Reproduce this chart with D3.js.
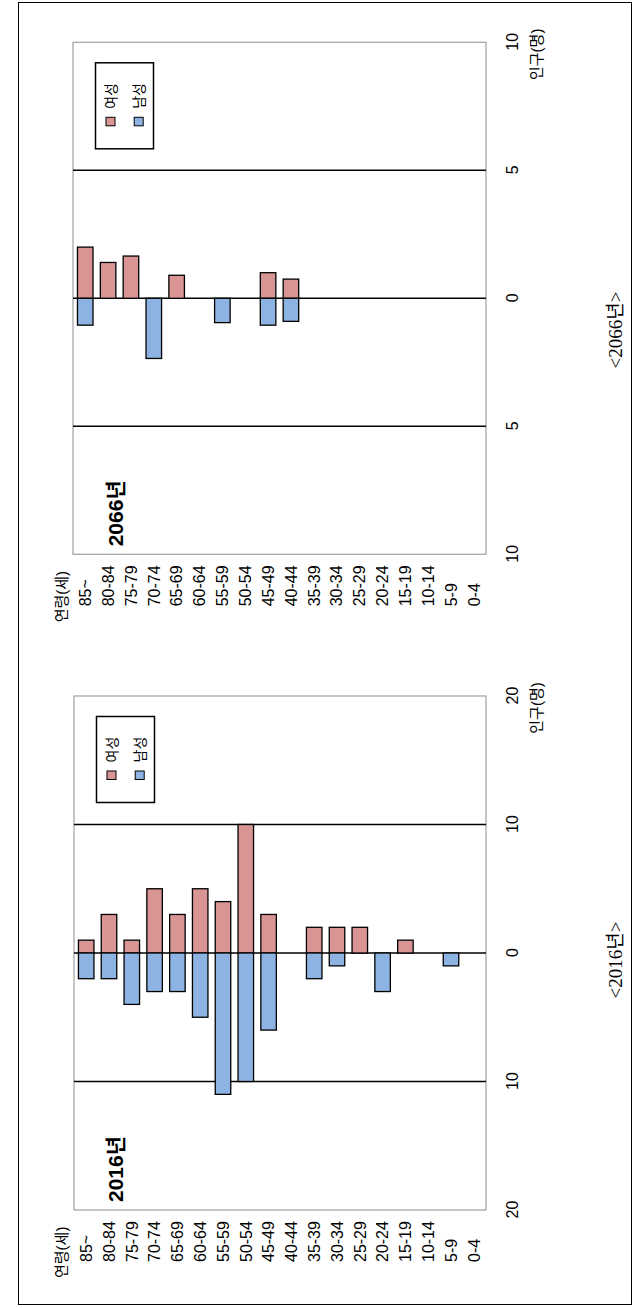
<!DOCTYPE html>
<html><head><meta charset="utf-8">
<script src="https://cdn.jsdelivr.net/npm/d3@7"></script>
<style>body{margin:0;background:#fff}svg{display:block}</style>
</head><body>
<svg id="c" width="635" height="1308"></svg>
<script>
const ages = ["85~","80-84","75-79","70-74","65-69","60-64","55-59","50-54","45-49","40-44","35-39","30-34","25-29","20-24","15-19","10-14","5-9","0-4"];
const female2016 = [1,3,1,5,3,5,4,10,3,0,2,2,2,0,1,0,0,0];
const male2016   = [2,2,4,3,3,5,11,10,6,0,2,1,0,3,0,0,1,0];
const female2066 = [2.0,1.4,1.65,0,0.9,0,0,0,1.0,0.75,0,0,0,0,0,0,0,0];
const male2066   = [1.05,0,0,2.35,0,0,0.95,0,1.05,0.9,0,0,0,0,0,0,0,0];
const ticks2016 = [-20,-10,0,10,20];
const ticks2066 = [-10,-5,0,5,10];
const grid2016 = [-10,10];
const grid2066 = [-5,5];
const legendLabels = ["여성","남성"];
const titles = ["2016년","2066년"];
const captions = ["<2016년>","<2066년>"];
const ageTitle = "연령(세)";
const popTitle = "인구(명)";

const RED = "#d99594", BLUE = "#8db3e2";
const SANS = "'Liberation Sans', Arial, 'Noto Sans CJK KR', sans-serif";
const SERIF = "'Liberation Serif', 'Times New Roman', 'Noto Sans CJK KR', serif";

const svg = d3.select("#c");
// outer frame (screen coords)
svg.append("rect").attr("x",18.5).attr("y",2.5).attr("width",613).attr("height",1302)
  .attr("fill","none").attr("stroke","#000").attr("stroke-width",1);

// rotated group: original landscape coords (1308 x 635)
const g = svg.append("g").attr("transform","translate(0,1308) rotate(-90)");

const panels = [
  {x0:98, x1:612, y0:74, y1:486, max:20, ticks:ticks2016, grid:grid2016, female:female2016, male:male2016, title:titles[0], caption:captions[0], capX:348},
  {x0:753.7, x1:1265.7, y0:73, y1:486, max:10, ticks:ticks2066, grid:grid2066, female:female2066, male:male2066, title:titles[1], caption:captions[1], capX:978}
];

panels.forEach(p => {
  const x = d3.scaleLinear().domain([-p.max, p.max]).range([p.x0, p.x1]);
  const y = d3.scaleBand().domain(ages).range([p.y0, p.y1]).paddingInner(0.32).paddingOuter(0.195);
  const pg = g.append("g");

  // plot border
  pg.append("rect").attr("x",p.x0).attr("y",p.y0).attr("width",p.x1-p.x0).attr("height",p.y1-p.y0)
    .attr("fill","none").attr("stroke","#a0a0a0").attr("stroke-width",1.2);

  // grid lines
  pg.selectAll(".grid").data(p.grid.concat([0])).join("line")
    .attr("x1",d=>x(d)).attr("x2",d=>x(d)).attr("y1",p.y0).attr("y2",p.y1)
    .attr("stroke","#000").attr("stroke-width",1.5);

  // bars
  pg.selectAll(".f").data(ages.map((a,i)=>({a, v:p.female[i]})).filter(d=>d.v>0)).join("rect")
    .attr("x",x(0)).attr("y",d=>y(d.a)).attr("width",d=>x(d.v)-x(0)).attr("height",y.bandwidth())
    .attr("fill",RED).attr("stroke","#000").attr("stroke-width",1.3);
  pg.selectAll(".m").data(ages.map((a,i)=>({a, v:p.male[i]})).filter(d=>d.v>0)).join("rect")
    .attr("x",d=>x(-d.v)).attr("y",d=>y(d.a)).attr("width",d=>x(0)-x(-d.v)).attr("height",y.bandwidth())
    .attr("fill",BLUE).attr("stroke","#000").attr("stroke-width",1.3);

  // x axis labels
  const ax = pg.append("g").attr("transform",`translate(0,${p.y1})`)
    .call(d3.axisBottom(x).tickValues(p.ticks).tickSize(0).tickPadding(0).tickFormat(d=>Math.abs(d)));
  ax.select(".domain").remove();
  ax.selectAll("text").attr("dy",null).attr("y",32).attr("font-size",16).attr("font-family",SANS).attr("fill","#000");

  // age labels (left-aligned)
  pg.selectAll(".age").data(ages).join("text")
    .attr("x",p.x0-52).attr("y",d=>y(d)+y.bandwidth()/2).attr("dy","0.36em")
    .attr("font-size",16).attr("font-family",SANS).text(d=>d);

  // age title
  pg.append("text").attr("x",p.x0-68).attr("y",67).attr("font-size",15).attr("font-family",SANS).text(ageTitle);

  // population title
  pg.append("text").attr("x",p.x1-12).attr("y",542).attr("text-anchor","middle").attr("font-size",15).attr("font-family",SANS).text(popTitle);

  // panel title
  pg.append("text").attr("x",p.x0+8).attr("y",123).attr("font-size",21).attr("font-weight","bold").attr("font-family",SANS).text(p.title);

  // legend
  const lx = p.x1-20.5-86, ly = p.y0+22.5;
  const lg = pg.append("g").attr("transform",`translate(${lx},${ly})`);
  lg.append("rect").attr("width",86).attr("height",58).attr("fill","#fff").attr("stroke","#000").attr("stroke-width",1.5);
  const items = lg.selectAll(".li").data(legendLabels).join("g").attr("transform",(d,i)=>`translate(0,${15+i*28.2})`);
  items.append("rect").attr("x",23).attr("y",-4.5).attr("width",8.5).attr("height",9)
    .attr("fill",(d,i)=>i===0?RED:BLUE).attr("stroke","#000").attr("stroke-width",1);
  items.append("text").attr("x",40).attr("y",0).attr("dy","0.36em").attr("font-size",14).attr("font-family",SANS).text(d=>d);

  // caption
  g.append("text").attr("x",p.capX).attr("y",622).attr("text-anchor","middle").attr("font-size",19).attr("font-family",SERIF).text(p.caption);
});
</script>
</body></html>
